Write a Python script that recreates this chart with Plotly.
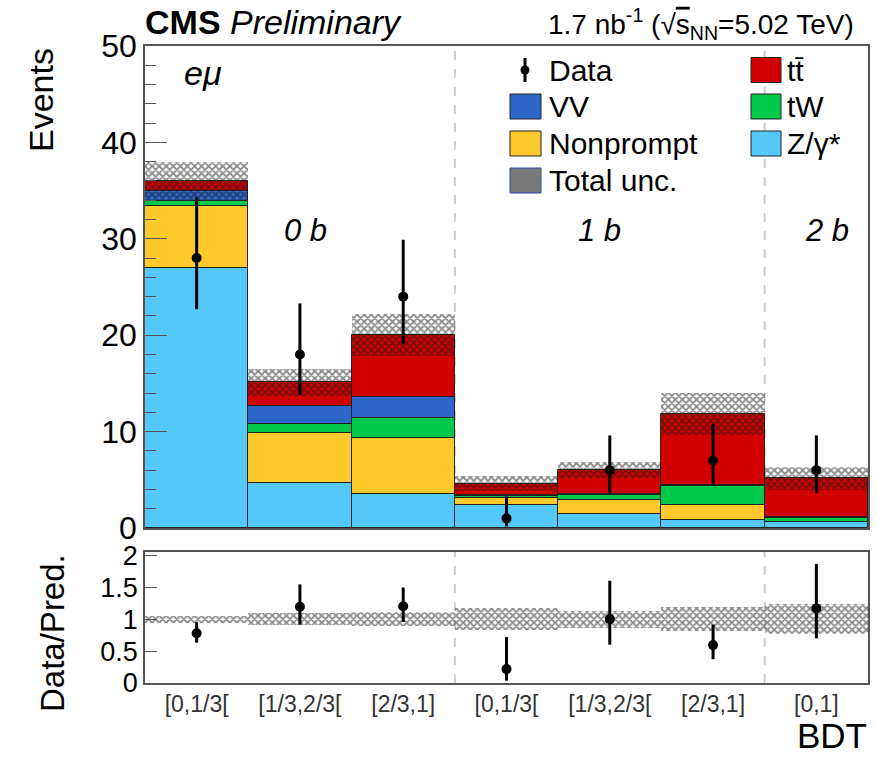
import numpy as np
import plotly.graph_objects as go

# ---------------- data ----------------
bin_labels = ["[0,1/3[", "[1/3,2/3[", "[2/3,1]", "[0,1/3[", "[1/3,2/3[", "[2/3,1]", "[0,1]"]
z_gamma   = [27.0, 4.7, 3.5, 2.4, 1.45, 0.83, 0.6]
nonprompt = [6.4, 5.2, 5.8, 0.7, 1.45, 1.57, 0.05]
tw        = [0.5, 0.9, 2.15, 0.2, 0.5, 2.0, 0.4]
vv        = [1.1, 1.9, 2.15, 0.1, 0.1, 0.1, 0.1]
ttbar     = [1.0, 2.4, 6.4, 1.2, 2.5, 7.3, 4.0]
total_unc = [2.0, 1.4, 2.2, 0.8, 0.8, 2.2, 1.2]
data      = [28, 18, 24, 1, 6, 7, 6]
data_up   = [6.3, 5.3, 5.9, 2.3, 3.6, 3.8, 3.6]
data_down = [5.3, 4.2, 4.9, 0.83, 2.4, 2.6, 2.4]
region_labels = ["0 b", "1 b", "2 b"]

# ---------------- styling ----------------
FONT = "Liberation Sans"
C_Z = "#55c8fa"
C_NP = "#fdc92b"
C_TW = "#00c94b"
C_VV = "#2e66c9"
C_TT = "#d10000"
LINE = "#222222"
FRAME = "#555555"

x = np.arange(len(bin_labels))
stack = [("Z/γ*", z_gamma, C_Z), ("Nonprompt", nonprompt, C_NP), ("tW", tw, C_TW),
         ("VV", vv, C_VV), ("tt̄", ttbar, C_TT)]

fig = go.Figure()
base = np.zeros(len(x))
for name, vals, col in stack:
    vals = np.array(vals, dtype=float)
    fig.add_trace(go.Bar(x=x, y=vals, base=base, width=1.0, name=name,
                         marker=dict(color=col, line=dict(color=LINE, width=1)),
                         xaxis="x", yaxis="y", showlegend=False))
    base = base + vals
total = base
unc = np.array(total_unc)

hatch = dict(shape="x", fgcolor="#1a1a1a", bgcolor="rgba(0,0,0,0)", size=5, solidity=0.6)
fig.add_trace(go.Bar(x=x, y=2 * unc, base=total - unc, width=1.0,
                     marker=dict(color="rgba(0,0,0,0)", line=dict(width=0), pattern=hatch),
                     xaxis="x", yaxis="y", showlegend=False))

d = np.array(data, dtype=float)
fig.add_trace(go.Scatter(x=x, y=d, mode="markers",
                         marker=dict(color="black", size=10),
                         error_y=dict(type="data", symmetric=False, array=data_up,
                                      arrayminus=data_down, color="black", thickness=3, width=0),
                         xaxis="x", yaxis="y", showlegend=False))

# ratio panel
fig.add_trace(go.Bar(x=x, y=2 * unc / total, base=1 - unc / total, width=1.0,
                     marker=dict(color="rgba(0,0,0,0)", line=dict(width=0), pattern=hatch),
                     xaxis="x2", yaxis="y2", showlegend=False))
fig.add_trace(go.Scatter(x=x, y=d / total, mode="markers",
                         marker=dict(color="black", size=10),
                         error_y=dict(type="data", symmetric=False, array=np.array(data_up) / total,
                                      arrayminus=np.array(data_down) / total,
                                      color="black", thickness=3, width=0),
                         xaxis="x2", yaxis="y2", showlegend=False))

# ---------------- layout ----------------
W, H = 877, 760
L, R, T, B = 145, 9, 46, 77
PW, PH = W - L - R, H - T - B


def px(xp):
    return (xp - L) / PW


def py(yp):
    return (H - B - yp) / PH


main_dom = [py(528), 1.0]
ratio_dom = [0.0, py(552)]

axis_common = dict(showline=True, linecolor=FRAME, linewidth=1.5, mirror=True,
                   showgrid=False, zeroline=False, automargin=False)

fig.update_layout(
    width=W, height=H,
    margin=dict(l=L, r=R, t=T, b=B, autoexpand=False),
    paper_bgcolor="white", plot_bgcolor="white",
    barmode="overlay", bargap=0,
    font=dict(family=FONT, color="black"),
    xaxis=dict(domain=[0, 1], range=[-0.5, 6.5], anchor="y", showticklabels=False,
               ticks="", **axis_common),
    yaxis=dict(domain=main_dom, range=[0, 50], anchor="x", tickvals=[0, 10, 20, 30, 40, 50],
               ticks="inside", ticklen=22, tickcolor=FRAME,
               minor=dict(dtick=2, ticks="inside", ticklen=11, tickcolor=FRAME),
               tickfont=dict(size=32, family=FONT), **axis_common),
    xaxis2=dict(domain=[0, 1], range=[-0.5, 6.5], anchor="y2", tickvals=list(x),
                ticktext=bin_labels, ticks="", tickfont=dict(size=23, color="#333333", family=FONT),
                **axis_common),
    yaxis2=dict(domain=ratio_dom, range=[0, 2.05], anchor="x2",
                tickvals=[0, 0.5, 1, 1.5, 2], ticktext=["0", "0.5", "1", "1.5", "2"],
                ticks="inside", ticklen=12, tickcolor=FRAME,
                tickfont=dict(size=27, family=FONT), **axis_common),
)

shapes = []
# region separators
for xb in [2.5, 5.5]:
    for yr in ["y domain", "y2 domain"]:
        shapes.append(dict(type="line", xref="x", yref=yr, x0=xb, x1=xb, y0=0, y1=1,
                           line=dict(color="#cccccc", width=2, dash="dash"), layer="below"))

ann = []
ann.append(dict(text="<b>CMS</b> <i>Preliminary</i>", xref="paper", yref="paper",
                x=px(143), y=py(22), xanchor="left", yanchor="middle", showarrow=False,
                font=dict(size=34, family=FONT)))
ann.append(dict(text="1.7 nb<sup>-1</sup> (√<span style='text-decoration:overline'>s</span><sub>NN</sub>=5.02 TeV)",
                xref="paper", yref="paper", x=px(856), y=py(24), xanchor="right", yanchor="middle",
                showarrow=False, font=dict(size=28, family=FONT)))
ann.append(dict(text="<i>eμ</i>", xref="paper", yref="paper", x=px(203), y=py(73),
                xanchor="center", yanchor="middle", showarrow=False, font=dict(size=34, family=FONT)))
for lab, xc in zip(region_labels, [1.05, 3.9, 6.1]):
    ann.append(dict(text="<i>" + lab + "</i>", xref="x", yref="paper", x=xc, y=py(230),
                    xanchor="center", yanchor="middle", showarrow=False,
                    font=dict(size=31, family=FONT)))
ann.append(dict(text="Events", xref="paper", yref="paper", x=px(41), y=py(46),
                xanchor="center", yanchor="top", textangle=-90, showarrow=False,
                font=dict(size=34, family=FONT)))
ann.append(dict(text="Data/Pred.", xref="paper", yref="paper", x=px(52), y=py(633),
                xanchor="center", yanchor="middle", textangle=-90, showarrow=False,
                font=dict(size=33, family=FONT)))
ann.append(dict(text="BDT", xref="paper", yref="paper", x=px(869), y=py(757),
                xanchor="right", yanchor="bottom", showarrow=False, font=dict(size=35, family=FONT)))

# legend (manual)
leg_rows = [70, 106.5, 143.5, 180.5]
left_items = [("VV", C_VV), ("Nonprompt", C_NP)]
right_items = [("tt̄", C_TT), ("tW", C_TW), ("Z/γ*", C_Z)]
LEG_FS = 30
# Data entry
shapes.append(dict(type="line", xref="paper", yref="paper", x0=px(525), x1=px(525),
                   y0=py(58), y1=py(82), line=dict(color="black", width=3)))
shapes.append(dict(type="circle", xref="paper", yref="paper", x0=px(520.5), x1=px(529.5),
                   y0=py(74.5), y1=py(65.5), fillcolor="black", line=dict(color="black", width=0)))
ann.append(dict(text="Data", xref="paper", yref="paper", x=px(547), y=py(leg_rows[0]),
                xanchor="left", yanchor="middle", showarrow=False, font=dict(size=LEG_FS, family=FONT)))
for (name, col), yr in zip(left_items, leg_rows[1:3]):
    shapes.append(dict(type="rect", xref="paper", yref="paper", x0=px(510), x1=px(541),
                       y0=py(yr + 12.5), y1=py(yr - 12.5), fillcolor=col, line=dict(color=LINE, width=1)))
    ann.append(dict(text=name, xref="paper", yref="paper", x=px(547), y=py(yr),
                    xanchor="left", yanchor="middle", showarrow=False, font=dict(size=LEG_FS, family=FONT)))
shapes.append(dict(type="rect", xref="paper", yref="paper", x0=px(510), x1=px(541),
                   y0=py(leg_rows[3] + 12.5), y1=py(leg_rows[3] - 12.5), fillcolor="#7a7a7a",
                   line=dict(color="#3344aa", width=1)))
ann.append(dict(text="Total unc.", xref="paper", yref="paper", x=px(547), y=py(leg_rows[3]),
                xanchor="left", yanchor="middle", showarrow=False, font=dict(size=LEG_FS, family=FONT)))
for (name, col), yr in zip(right_items, leg_rows[:3]):
    shapes.append(dict(type="rect", xref="paper", yref="paper", x0=px(751), x1=px(781),
                       y0=py(yr + 12.5), y1=py(yr - 12.5), fillcolor=col, line=dict(color=LINE, width=1)))
    ann.append(dict(text=name, xref="paper", yref="paper", x=px(785), y=py(yr),
                    xanchor="left", yanchor="middle", showarrow=False, font=dict(size=LEG_FS, family=FONT)))

fig.update_layout(shapes=shapes, annotations=ann)
fig.write_html("out.html", config={"displayModeBar": False},
               post_script="document.body.style.margin='0';document.body.style.padding='0';")
